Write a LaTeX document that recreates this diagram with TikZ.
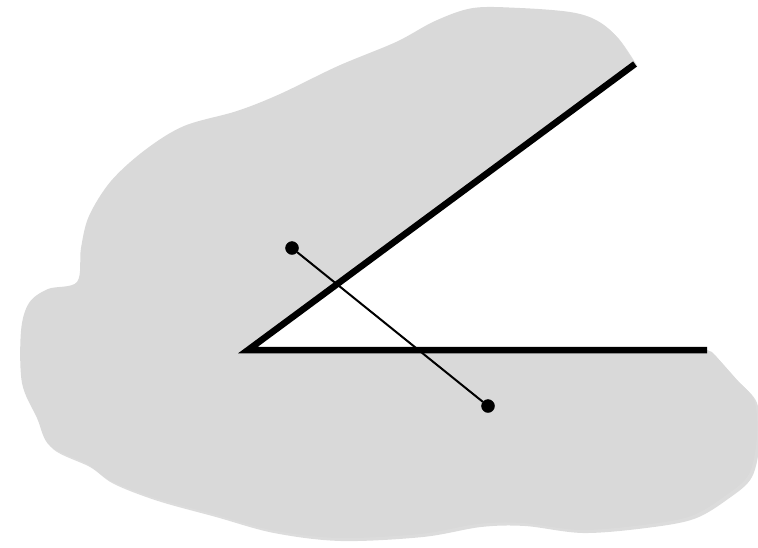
\documentclass[tikz,border=0pt]{standalone}
\usetikzlibrary{positioning}

\begin{document}
\begin{tikzpicture}[x=1pt, y=-1pt,
      blob/.style = {fill=black!15},
      shade/.style = {fill=black!30, opacity=0.45},
      ray/.style = {line width=6.5pt},
      dot/.style = {draw, circle, fill=black, inner sep=0pt, minimum size=13pt},
      seg/.style = {line width=2pt}]
      \useasboundingbox (0,0) rectangle (758,547);

      \coordinate (O) at (248,350);
      \coordinate (A) at (635,64);
      \coordinate (B) at (707,350);

      % the region, with the angle cut out
      \foreach \s/\d in {shade/3, blob/0} {
        \begin{scope}[shift={(\d,\d)}]
          \path[\s] (O) -- (A) -- plot[smooth, tension=0.55] coordinates {
            (635,64) (616,36) (596,20) (570,12) (520,8) (473,8) (435,21)
            (396,42) (338,66) (280,94) (237,111) (184,126) (145,150)
            (111,181) (89,216) (81,248) (77,282) (48,289) (29,303)
            (21,331) (22,383) (37,418) (50,446) (87,464) (111,481)
            (155,498) (213,514) (271,530) (338,538) (420,534) (478,524)
            (522,523) (580,530) (643,525) (691,516) (725,496) (749,474)
            (757,436) (754,400) (735,378) (712,352)} -- (B) -- cycle;
        \end{scope}
      }

      \draw[ray] (A) -- (O) -- (B);

      \node[dot] (P) at (292,248) {};
      \node[dot] (Q) at (488,406) {};
      \draw[seg] (P) -- (Q);
    \end{tikzpicture}
\end{document}
